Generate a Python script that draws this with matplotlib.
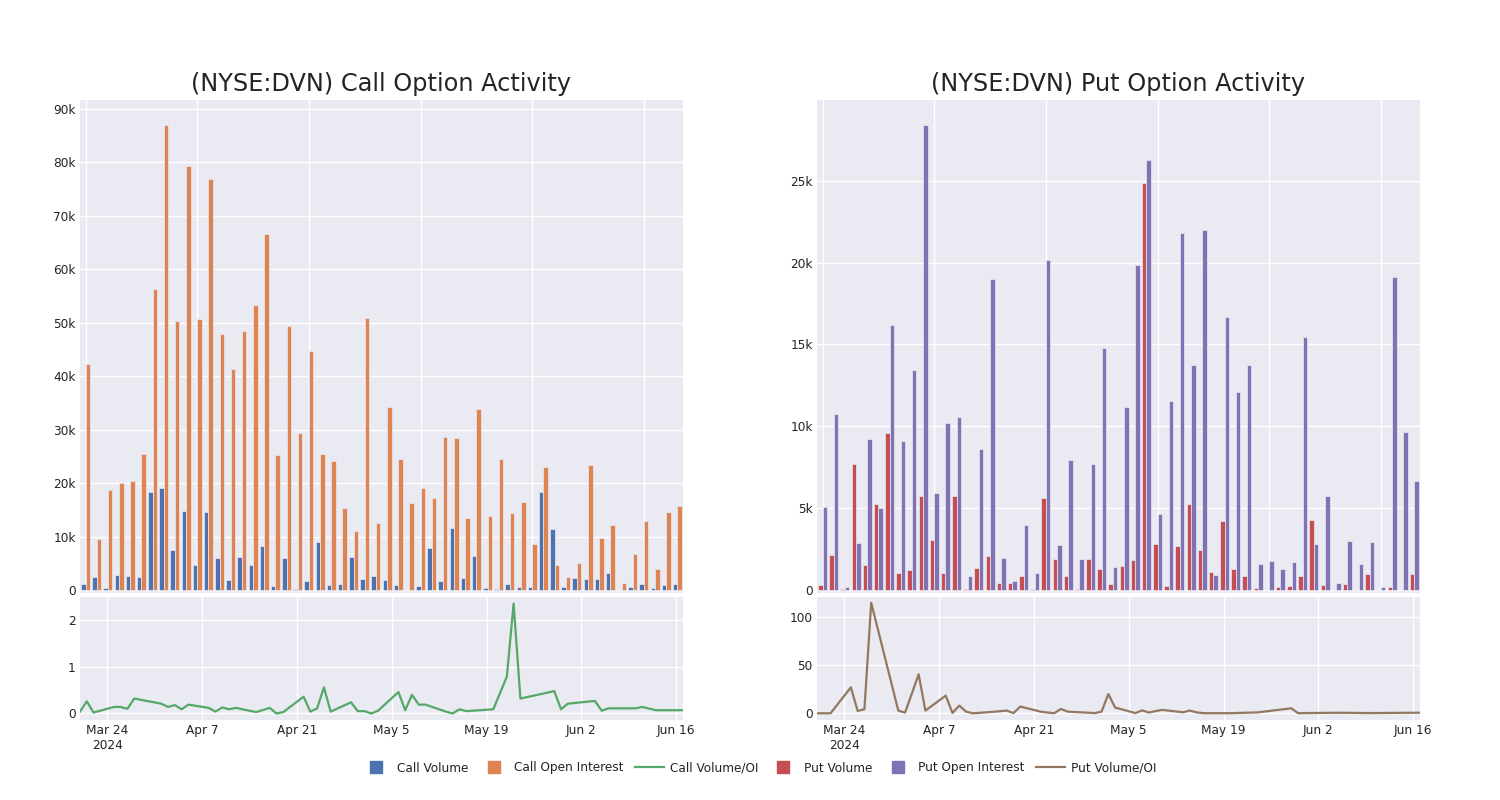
import matplotlib
matplotlib.use("Agg")
import matplotlib.pyplot as plt
import numpy as np
import pandas as pd
from matplotlib.lines import Line2D

# trading days present in the data
dates = ["2024-03-20", "2024-03-21", "2024-03-22", "2024-03-25", "2024-03-26", "2024-03-27",
         "2024-03-28", "2024-04-01", "2024-04-02", "2024-04-03", "2024-04-04", "2024-04-05",
         "2024-04-08", "2024-04-09", "2024-04-10", "2024-04-11", "2024-04-12", "2024-04-15",
         "2024-04-17", "2024-04-18", "2024-04-19", "2024-04-22", "2024-04-23", "2024-04-24",
         "2024-04-25", "2024-04-26", "2024-04-29", "2024-04-30", "2024-05-01", "2024-05-02",
         "2024-05-03", "2024-05-06", "2024-05-07", "2024-05-08", "2024-05-09", "2024-05-10",
         "2024-05-13", "2024-05-14", "2024-05-15", "2024-05-16", "2024-05-20", "2024-05-22",
         "2024-05-23", "2024-05-24", "2024-05-29", "2024-05-30", "2024-05-31", "2024-06-04",
         "2024-06-05", "2024-06-06", "2024-06-10", "2024-06-11", "2024-06-13", "2024-06-17"]

call_volume = [1200, 2400, 400, 2800, 2600, 2500, 18400, 19100, 7500, 14800, 4700, 14500,
               6000, 1800, 6200, 4600, 8300, 750, 5900, 200, 1700, 8900, 900, 1200,
               6200, 2100, 2700, 1800, 1000, 50, 800, 7800, 1700, 11600, 2300, 6400,
               400, 250, 1200, 600, 600, 18400, 11500, 600, 2200, 2000, 2000, 3200,
               50, 600, 1200, 400, 900, 1100]
call_oi = [42300, 9500, 18700, 20100, 20400, 25500, 56200, 86900, 50200, 79200, 50700, 76800,
           47800, 41400, 48400, 53200, 66500, 25200, 49400, 29300, 44700, 25500, 24200, 15400,
           11100, 50900, 12600, 34200, 24500, 16200, 19100, 17200, 28600, 28400, 13400, 33800,
           13900, 24500, 14400, 16400, 8600, 23000, 4700, 2500, 5000, 23300, 9700, 12100,
           1400, 6700, 13000, 4000, 14600, 15700]
call_ratio = [0.04, 0.26, 0.02, 0.14, 0.14, 0.10, 0.32, 0.21, 0.14, 0.18, 0.09, 0.19,
              0.12, 0.04, 0.13, 0.09, 0.12, 0.03, 0.12, 0.0, 0.03, 0.36, 0.04, 0.11,
              0.56, 0.04, 0.24, 0.05, 0.05, 0.0, 0.06, 0.46, 0.07, 0.40, 0.19, 0.19,
              0.04, 0.0, 0.09, 0.05, 0.09, 0.79, 2.36, 0.32, 0.48, 0.09, 0.21, 0.27,
              0.06, 0.11, 0.11, 0.14, 0.07, 0.07]

put_volume = [330, 2160, 60, 7700, 1530, 5250, 9570, 1060, 1220, 5760, 3050, 1060,
              5740, 80, 1340, 2060, 410, 410, 830, 60, 5620, 1890, 880, 60,
              1890, 1280, 350, 1490, 1830, 24840, 2810, 220, 2710, 5270, 2440, 1080,
              4190, 1300, 880, 140, 20, 200, 240, 860, 4280, 330, 20, 370,
              10, 1000, 10, 160, 0, 960]
put_oi = [5050, 10750, 200, 2900, 9200, 5000, 16200, 9120, 13440, 28420, 5940, 10180,
          10550, 880, 8630, 18990, 1970, 570, 3950, 1020, 20150, 2730, 7940, 1890,
          7700, 14760, 1380, 11200, 19850, 26240, 4640, 11540, 21780, 13720, 21990, 900,
          16670, 12110, 13720, 1570, 1750, 1260, 1730, 15470, 2830, 5740, 410, 2990,
          1570, 2910, 200, 19140, 9630, 6680]
put_ratio = [0.0, 0.0, 0.0, 27.0, 2.4, 4.2, 115.0, 2.8, 0.7, 20.5, 40.6, 2.8,
             18.4, 0.3, 8.0, 1.7, 0.0, 1.5, 2.8, 0.2, 7.0, 1.7, 0.8, 0.1,
             4.5, 1.7, 0.6, 0.2, 1.7, 20.0, 6.0, 0.2, 3.0, 0.7, 2.4, 3.5,
             1.0, 2.8, 1.0, 0.1, 0.1, 0.5, 0.7, 0.9, 5.2, 0.1, 0.2, 0.5,
             0.5, 0.5, 0.2, 0.3, 0.4, 0.6]

call_yticks = [0, 10000, 20000, 30000, 40000, 50000, 60000, 70000, 80000, 90000]
call_ylabels = ["0", "10k", "20k", "30k", "40k", "50k", "60k", "70k", "80k", "90k"]
put_yticks = [0, 5000, 10000, 15000, 20000, 25000]
put_ylabels = ["0", "5k", "10k", "15k", "20k", "25k"]
call_rticks = [0, 1, 2]
put_rticks = [0, 50, 100]
date_ticks = ["2024-03-24", "2024-04-07", "2024-04-21", "2024-05-05", "2024-05-19",
              "2024-06-02", "2024-06-16"]
date_labels = ["Mar 24\n2024", "Apr 7", "Apr 21", "May 5", "May 19", "Jun 2", "Jun 16"]

BG = "#EAEAF2"
TXT = "#242424"
plt.rcParams["font.family"] = ["DejaVu Sans"]

W, H = 1500, 800
fig = plt.figure(figsize=(15, 8), dpi=100)


def px_axes(x0, x1, y0, y1):
    return fig.add_axes([x0 / W, 1 - y1 / H, (x1 - x0) / W, (y1 - y0) / H])


def style(ax):
    ax.set_facecolor(BG)
    for s in ax.spines.values():
        s.set_visible(False)
    ax.grid(True, color="white", linewidth=1)
    ax.set_axisbelow(True)
    ax.tick_params(length=0, labelsize=8.7, colors=TXT, pad=3)


def bar_panel(ax, vol, oi, c1, c2, ylim, yticks, ylabels):
    style(ax)
    x = np.arange(len(dates))
    ax.bar(x - 0.2, vol, width=0.4, color=c1, edgecolor=BG, linewidth=0.5)
    ax.bar(x + 0.2, oi, width=0.4, color=c2, edgecolor=BG, linewidth=0.5)
    ax.set_xlim(-0.5, len(dates) - 0.5)
    ax.set_xticks(np.arange(0, len(dates), 10))
    ax.set_xticklabels([])
    ax.set_ylim(*ylim)
    ax.set_yticks(yticks)
    ax.set_yticklabels(ylabels)


def ratio_panel(ax, ratio, color, ylim, yticks):
    style(ax)
    d = pd.to_datetime(dates)
    ax.plot(d, ratio, color=color, linewidth=1.6)
    ax.set_xlim(d[0], d[-1])
    ax.set_xticks(pd.to_datetime(date_ticks))
    ax.set_xticklabels(date_labels)
    ax.set_ylim(*ylim)
    ax.set_yticks(yticks)


ax1 = px_axes(80, 683, 100, 593)
bar_panel(ax1, call_volume, call_oi, "#4c72b0", "#dd8452", (-550, 91600), call_yticks, call_ylabels)
ax2 = px_axes(80, 683, 597, 720)
ratio_panel(ax2, call_ratio, "#55a868", (-0.14, 2.5), call_rticks)

ax3 = px_axes(817, 1420, 100, 593)
bar_panel(ax3, put_volume, put_oi, "#c44e52", "#8172b3", (-180, 29930), put_yticks, put_ylabels)
ax4 = px_axes(817, 1420, 597, 720)
ratio_panel(ax4, put_ratio, "#937860", (-7, 121), put_rticks)

fig.text(381.5 / W, 1 - 84 / H, "(NYSE:DVN) Call Option Activity", ha="center", va="center",
         fontsize=17.3, color=TXT)
fig.text(1118.5 / W, 1 - 84 / H, "(NYSE:DVN) Put Option Activity", ha="center", va="center",
         fontsize=17.3, color=TXT)

handles = [
    Line2D([], [], marker="s", linestyle="none", markersize=9, color="#4c72b0"),
    Line2D([], [], marker="s", linestyle="none", markersize=9, color="#dd8452"),
    Line2D([], [], color="#55a868", linewidth=1.6),
    Line2D([], [], marker="s", linestyle="none", markersize=9, color="#c44e52"),
    Line2D([], [], marker="s", linestyle="none", markersize=9, color="#8172b3"),
    Line2D([], [], color="#937860", linewidth=1.6),
]
labels = ["Call Volume", "Call Open Interest", "Call Volume/OI", "Put Volume",
          "Put Open Interest", "Put Volume/OI"]
leg = fig.legend(handles, labels, loc="center", bbox_to_anchor=(759 / W, 1 - 768 / H), ncol=6,
                 frameon=False, fontsize=8.7, handlelength=2.4, handletextpad=0.5,
                 columnspacing=0.9)
for t in leg.get_texts():
    t.set_color(TXT)

fig.savefig("out.png", dpi=100, facecolor="white")
